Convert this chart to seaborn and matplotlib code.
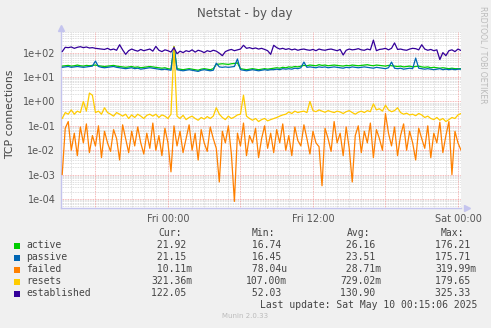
import numpy as np
import pandas as pd
import matplotlib
matplotlib.use("Agg")
import matplotlib.pyplot as plt
import matplotlib.patches as mpatches
import seaborn as sns

# ---------------- data ----------------
series_names = ["active", "passive", "failed", "resets", "established"]
series_colors = ["#00cc00", "#0066b3", "#ff8000", "#ffcc00", "#330099"]

# sample times, hours relative to Fri 00:00 (15-minute samples)
hours = [-8.75 + 0.25 * i for i in range(133)]

active = [28, 29, 30, 28, 29, 31, 29, 28, 30, 29,
          30, 31, 29, 28, 27, 28, 29, 30, 28, 27,
          26, 25, 26, 27, 25, 26, 24, 25, 26, 27,
          26, 25, 24, 23, 24, 22, 21,
          176.21,
          22, 21, 20, 21, 22, 21, 20, 19, 21, 22, 21, 20,
          22, 33, 34, 35, 34, 33, 35, 36, 38,
          22, 21, 20, 21, 22, 21, 20, 21, 22, 21, 22,
          23, 24, 23, 25, 24, 26, 25, 27, 26, 28,
          30, 29, 31, 30, 29, 32, 30, 31, 29, 30,
          31, 30, 29, 28, 30, 29, 31, 30, 29, 30,
          31, 32, 30, 29, 31, 30, 29, 28, 30, 29,
          28, 27, 28, 26, 27, 28, 26, 27, 28, 26,
          25, 26, 24, 25, 24, 23, 24, 23, 22, 23, 22, 22, 21.92]

passive = [25, 26, 27, 25, 26, 27, 26, 25, 26, 27,
           28, 45, 27, 25, 24, 25, 26, 27, 25, 24,
           23, 22, 23, 24, 22, 23, 21, 22, 23, 24,
           23, 22, 21, 20, 21, 20, 19,
           175.71,
           20, 19, 18, 19, 20, 19, 18, 17, 19, 20, 19, 18,
           19, 37, 26, 25, 26, 25, 26, 27, 55,
           20, 19, 18, 19, 20, 19, 18, 19, 20, 19, 20,
           20, 21, 20, 22, 21, 22, 21, 23, 22, 24,
           41, 25, 26, 25, 24, 26, 25, 26, 24, 25,
           26, 25, 24, 23, 25, 24, 26, 25, 24, 25,
           26, 25, 24, 23, 25, 24, 23, 22, 24, 41,
           23, 22, 23, 21, 22, 23, 22, 60, 23, 22,
           21, 22, 21, 20, 21, 22, 20, 21, 20, 21, 20, 21, 21.15]

failed = [0.001, 0.08, 0.15, 0.01, 0.05, 0.006, 0.09, 0.02, 0.12, 0.008,
          0.04, 0.015, 0.1, 0.005, 0.06, 0.02, 0.009, 0.07, 0.03, 0.004,
          0.11, 0.03, 0.008, 0.06, 0.015, 0.09, 0.02, 0.007, 0.05, 0.012,
          0.13, 0.01, 0.04, 0.006, 0.08, 0.02, 0.0013,
          0.1,
          0.015, 0.06, 0.008, 0.03, 0.11, 0.01, 0.05, 0.004, 0.07, 0.02, 0.009, 0.09,
          0.03, 0.012, 0.0005, 0.06, 0.02, 0.1, 0.007, 0.00008, 0.05,
          0.015, 0.13, 0.006, 0.04, 0.02, 0.08, 0.005, 0.03, 0.1, 0.012, 0.05,
          0.008, 0.07, 0.02, 0.12, 0.01, 0.04, 0.006, 0.09, 0.025, 0.015,
          0.11, 0.03, 0.007, 0.06, 0.02, 0.014, 0.00035, 0.08, 0.03, 0.009,
          0.15, 0.02, 0.05, 0.006, 0.09, 0.012, 0.0005, 0.04, 0.1, 0.008,
          0.06, 0.02, 0.13, 0.005, 0.07, 0.03, 0.01, 0.32, 0.05, 0.015,
          0.09, 0.006, 0.04, 0.12, 0.01, 0.06, 0.02, 0.004, 0.08, 0.03,
          0.012, 0.1, 0.005, 0.05, 0.02, 0.14, 0.008, 0.04, 0.15, 0.001, 0.06, 0.02, 0.0101]

resets = [0.2, 0.35, 0.3, 0.45, 0.3, 0.4, 0.35, 1.0, 0.4, 2.2,
          1.8, 0.35, 0.4, 0.3, 0.55, 0.35, 0.3, 0.25, 0.35, 0.3,
          0.25, 0.3, 0.2, 0.28, 0.22, 0.3, 0.25, 0.2, 0.27, 0.3,
          0.25, 0.3, 0.22, 0.28, 0.25, 0.2, 0.3,
          179.65,
          0.25, 0.2, 0.27, 0.18, 0.22, 0.25, 0.2, 0.17, 0.22, 0.19, 0.24, 0.2,
          0.25, 0.55, 0.3, 0.22, 0.18, 0.25, 0.2, 0.23, 0.28,
          0.3, 1.8, 0.25, 0.2, 0.17, 0.2, 0.15, 0.18, 0.2, 0.16, 0.18,
          0.2, 0.22, 0.25, 0.28, 0.3, 0.37, 0.32, 0.4, 0.35, 0.38,
          0.4, 0.35, 1.0, 0.42, 0.38, 0.45, 0.4, 0.36, 0.42, 0.38,
          0.35, 0.4, 0.37, 0.32, 0.38, 0.42, 0.35, 0.3, 0.36, 0.4,
          0.35, 0.42, 0.38, 0.8, 0.45, 0.5, 0.4, 0.7, 0.45, 0.38,
          0.42, 0.55, 0.35, 0.3, 0.33, 0.28, 0.3, 0.26, 0.32, 0.28,
          0.22, 0.25, 0.2, 0.18, 0.22, 0.17, 0.2, 0.15, 0.18, 0.22, 0.2, 0.28, 0.32]

established = [110, 165, 160, 170, 150, 165, 175, 160, 170, 155,
               160, 150, 145, 140, 135, 150, 130, 140, 125, 210,
               130, 85, 120, 140, 125, 115, 135, 120, 130, 140,
               115, 180, 125, 110, 130, 120, 105,
               160,
               90, 115, 100, 120, 110, 130, 105, 125, 115, 100, 120, 110,
               125, 115, 95, 75, 110, 125, 135, 120, 130,
               140, 200, 150, 160, 145, 155, 140, 150, 135, 120, 85,
               200, 160, 140, 150, 135, 145, 130, 140, 125, 135,
               140, 130, 125, 135, 120, 140, 130, 125, 135, 140,
               130, 120, 135, 80, 125, 140, 130, 135, 145, 130,
               125, 140, 130, 325, 120, 135, 140, 150, 130, 150,
               250, 135, 140, 130, 125, 140, 150, 145, 130, 210,
               140, 125, 135, 120, 130, 52, 100, 75, 120, 130, 110, 140, 122.05]

cur_vals = ["21.92 ", "21.15 ", "10.11m", "321.36m", "122.05 "]
min_vals = ["16.74 ", "16.45 ", "78.04u", "107.00m", "52.03 "]
avg_vals = ["26.16 ", "23.51 ", "28.71m", "729.02m", "130.90 "]
max_vals = ["176.21 ", "175.71 ", "319.99m", "179.65 ", "325.33 "]

x_tick_pos = [0, 12, 24]
x_tick_labels = ["Fri 00:00", "Fri 12:00", "Sat 00:00"]
y_tick_pos = [1e2, 1e1, 1e0, 1e-1, 1e-2, 1e-3, 1e-4]
y_tick_labels = ["1e+02", "1e+01", "1e+00", "1e-01", "1e-02", "1e-03", "1e-04"]

# ---------------- figure ----------------
W, H = 491, 328
sns.set_theme(style="white")
plt.rcParams["font.family"] = ["DejaVu Sans"]
fig = plt.figure(figsize=(W / 100, H / 100), dpi=100, facecolor="#f0f0f0")

def fx(px):
    return px / W

def fy(py):
    return 1 - py / H

ax = fig.add_axes([fx(61), fy(208), 400 / W, 176 / H])
ax.set_facecolor("white")

df = pd.DataFrame({
    "h": hours * 5,
    "v": active + passive + failed + resets + established,
    "series": sum([[n] * len(hours) for n in series_names], []),
})
sns.lineplot(data=df, x="h", y="v", hue="series", hue_order=series_names,
             palette=dict(zip(series_names, series_colors)), linewidth=0.9,
             legend=False, ax=ax, sort=False, zorder=5)

ax.set_yscale("log")
ax.set_ylim(4.3e-5, 700)
ax.set_xlim(-8.85, 24.25)

# grid
minor_y = [m * 10.0 ** d for d in range(-5, 3) for m in range(2, 10)]
for yv in minor_y:
    ax.axhline(yv, color="#d4d4d4", lw=0.6, ls=(0, (1, 1)), zorder=1)
for hv in np.arange(-8, 25, 1):
    if hv % 6 != 0:
        ax.axvline(hv, color="#d4d4d4", lw=0.6, ls=(0, (1, 1)), zorder=1)
for yv in y_tick_pos:
    ax.axhline(yv, color="#f2a0a0", lw=0.6, ls=(0, (1, 1)), zorder=2)
for hv in [-6, 0, 6, 12, 18, 24]:
    ax.axvline(hv, color="#f2a0a0", lw=0.6, ls=(0, (1, 1)), zorder=2)

ax.set_xticks(x_tick_pos)
ax.set_xticklabels(x_tick_labels)
ax.set_yticks(y_tick_pos)
ax.set_yticklabels(y_tick_labels)
ax.minorticks_off()
ax.tick_params(axis="both", length=0, labelsize=7, colors="#555555", pad=4)
ax.set_xlabel("")
ax.set_ylabel("")

for s in ["top", "right"]:
    ax.spines[s].set_visible(False)
for s in ["left", "bottom"]:
    ax.spines[s].set_color("#c4c4ee")
    ax.spines[s].set_linewidth(1.0)
ax.plot([0], [1.025], marker="^", color="#c4c4ee", markersize=4,
        transform=ax.transAxes, clip_on=False)
ax.plot([1.015], [0], marker=">", color="#c4c4ee", markersize=4,
        transform=ax.transAxes, clip_on=False)

# texts
fig.text(fx(245), fy(13.5), "Netstat - by day", ha="center", va="center",
         fontsize=8.5, color="#555555")
fig.text(fx(10), fy(114), "TCP connections", rotation=90, ha="center",
         va="center", fontsize=7.8, color="#444444")
fig.text(fx(483), fy(6), "RRDTOOL / TOBI OETIKER", rotation=270, ha="center",
         va="top", fontsize=5.5, color="#bbbbbb")

mono = "DejaVu Sans Mono"
fs = 7
fig.text(fx(158), fy(233), "Cur:", family=mono, fontsize=fs, color="#444444", va="center")
fig.text(fx(252), fy(233), "Min:", family=mono, fontsize=fs, color="#444444", va="center")
fig.text(fx(346.5), fy(233), "Avg:", family=mono, fontsize=fs, color="#444444", va="center")
fig.text(fx(441), fy(233), "Max:", family=mono, fontsize=fs, color="#444444", va="center")

row_y = [245.5, 257.5, 269.5, 281.5, 293.5]

def fmt(s):
    return s.rjust(7)

for i, name in enumerate(series_names):
    yy = row_y[i]
    fig.patches.append(mpatches.Rectangle((fx(14), fy(yy + 3)), 6 / W, 6 / H,
                                          transform=fig.transFigure,
                                          facecolor=series_colors[i],
                                          edgecolor="none"))
    fig.text(fx(26.5), fy(yy), name, family=mono, fontsize=fs, color="#444444", va="center")
    fig.text(fx(151), fy(yy), fmt(cur_vals[i]), family=mono, fontsize=fs, color="#444444", va="center")
    fig.text(fx(246), fy(yy), fmt(min_vals[i]), family=mono, fontsize=fs, color="#444444", va="center")
    fig.text(fx(340), fy(yy), fmt(avg_vals[i]), family=mono, fontsize=fs, color="#444444", va="center")
    fig.text(fx(435), fy(yy), max_vals[i].rjust(7), family=mono, fontsize=fs, color="#444444", va="center")

fig.text(fx(477), fy(305.5), "Last update: Sat May 10 00:15:06 2025", family=mono,
         fontsize=fs, color="#444444", va="center", ha="right")
fig.text(fx(245), fy(316), "Munin 2.0.33", fontsize=5, color="#bbbbbb",
         ha="center", va="center")

fig.savefig("out.png", dpi=100, facecolor=fig.get_facecolor())
